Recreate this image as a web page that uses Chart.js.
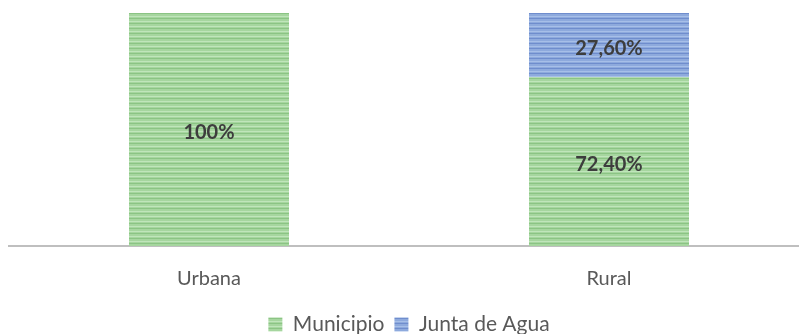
<!DOCTYPE html>
<html>
<head>
<meta charset="utf-8">
<script src="https://cdn.jsdelivr.net/npm/chart.js@4/dist/chart.umd.min.js"></script>
<style>
  html, body { margin: 0; padding: 0; background: #fff; overflow: hidden; }
  #clip { width: 799px; height: 334px; overflow: hidden; position: relative; }
  #wrap { width: 810px; height: 345px; position: relative; }
</style>
</head>
<body>
<div id="clip"><div id="wrap"><canvas id="c"></canvas></div></div>
<script>
// Water service provider share by zone
const categories = ['Urbana', 'Rural'];
const municipio = [100, 72.4];
const juntaDeAgua = [0, 27.6];
const seriesNames = ['Municipio', 'Junta de Agua'];

// Horizontally striped fill used for the bars
function stripes(light, mid, dark) {
  const p = document.createElement('canvas');
  p.width = 4; p.height = 5;
  const g = p.getContext('2d');
  g.fillStyle = mid; g.fillRect(0, 0, 4, 5);
  g.fillStyle = light; g.fillRect(0, 1, 4, 1);
  g.fillStyle = dark; g.fillRect(0, 3, 4, 1);
  return g.createPattern(p, 'repeat');
}
const greenFill = stripes('#c0e5bb', '#a6d69f', '#8bc484');
const blueFill = stripes('#a7bfe8', '#8eaadd', '#6f8dcd');

function fmt(v) {
  return Number.isInteger(v) ? v + '%' : v.toFixed(2).replace('.', ',') + '%';
}

// Value labels centred inside each bar segment
const valueLabels = {
  id: 'valueLabels',
  afterDatasetsDraw(chart) {
    const ctx = chart.ctx;
    ctx.save();
    ctx.font = 'bold 20px Lato, "Open Sans", sans-serif';
    ctx.fillStyle = '#3d3d3d';
    ctx.textAlign = 'center';
    ctx.textBaseline = 'middle';
    chart.data.datasets.forEach((ds, i) => {
      const meta = chart.getDatasetMeta(i);
      meta.data.forEach((bar, j) => {
        const v = ds.data[j];
        if (!v) return;
        const mid = (bar.y + bar.base) / 2;
        ctx.fillText(fmt(v), bar.x, mid + 3);
      });
    });
    ctx.restore();
  }
};

new Chart(document.getElementById('c'), {
  type: 'bar',
  data: {
    labels: categories,
    datasets: [
      { label: seriesNames[0], data: municipio, backgroundColor: greenFill, borderWidth: 0,
        barPercentage: 0.4, categoryPercentage: 1.0 },
      { label: seriesNames[1], data: juntaDeAgua, backgroundColor: blueFill, borderWidth: 0,
        barPercentage: 0.4, categoryPercentage: 1.0 }
    ]
  },
  options: {
    responsive: true,
    maintainAspectRatio: false,
    animation: false,
    layout: { padding: { top: 13, left: 9, right: 1, bottom: 0 } },
    scales: {
      x: {
        stacked: true,
        grid: { display: false },
        border: { display: true, color: '#bfbfbf', width: 2 },
        ticks: { color: '#595959', font: { family: 'Lato, "Open Sans", sans-serif', size: 20 }, padding: 13 },
        afterFit(scale) { scale.height = 58; }
      },
      y: {
        stacked: true,
        display: false,
        min: 0, max: 100
      }
    },
    plugins: {
      legend: {
        position: 'bottom',
        labels: {
          color: '#595959',
          font: { family: 'Lato, "Open Sans", sans-serif', size: 21 },
          boxWidth: 14, boxHeight: 14, padding: 10
        }
      },
      tooltip: { enabled: false }
    }
  },
  plugins: [valueLabels]
});
</script>
</body>
</html>
